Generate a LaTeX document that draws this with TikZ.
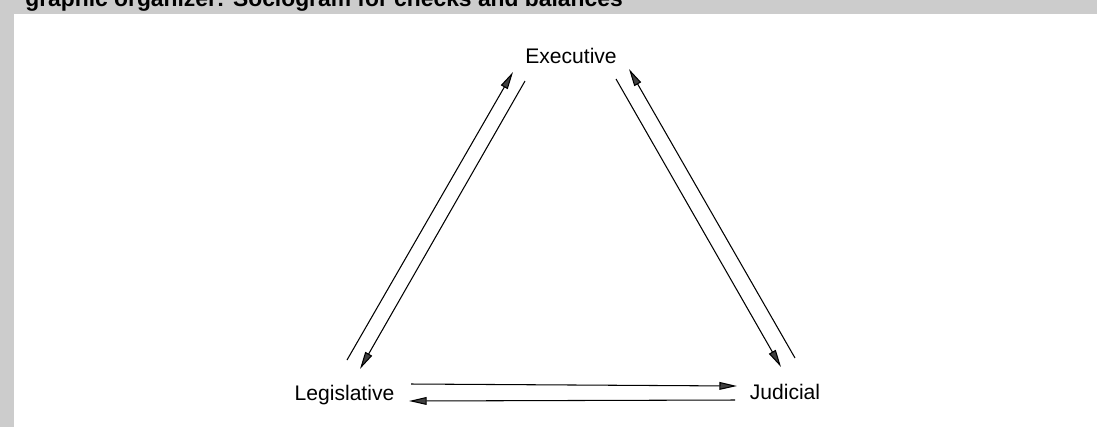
\documentclass[tikz,border=0pt]{standalone}
\usepackage{fontspec}
\setmainfont{Liberation Sans}
\usetikzlibrary{arrows.meta}

\begin{document}
\begin{tikzpicture}[x=0.02cm,y=-0.02cm,
  branch/.style={font=\fontsize{12}{14}\selectfont,anchor=base,inner sep=0pt},
  check/.style={line width=0.6pt,-{Triangle[length=10pt,width=4.4pt,fill=black!75]}}]
  \useasboundingbox (0,0) rectangle (1097,427);
  % page edge and the cut-off heading
  \begin{scope}
    \clip (0,0) rectangle (1097,14);
    \fill [black!20] (0,0) rectangle (1097,14);
    \node [anchor=base west,inner sep=0pt,font=\fontsize{13}{15}\selectfont\bfseries] (head) at (25,6) {graphic organizer: Sociogram for checks and balances};
  \end{scope}
  \fill [black!20] (0,0) rectangle (14,427);
  % the three branches
  \node [branch] (exec) at (571,63) {Executive};
  \node [branch] (legis) at (344.5,400) {Legislative};
  \node [branch] (judic) at (785,399) {Judicial};
  % checks between them
  \draw [check] ([shift={(2.5,-40)}]legis.base) -- ([shift={(-58,9)}]exec.base);
  \draw [check] ([shift={(-46,18)}]exec.base) -- ([shift={(15.5,-31)}]legis.base);
  \draw [check] ([shift={(45,16)}]exec.base) -- ([shift={(-4,-32)}]judic.base);
  \draw [check] ([shift={(10,-41)}]judic.base) -- ([shift={(58,6)}]exec.base);
  \draw [check] ([shift={(66.5,-16)}]legis.base) -- ([shift={(-48,-13)}]judic.base);
  \draw [check] ([shift={(-50,1)}]judic.base) -- ([shift={(64.5,1)}]legis.base);
\end{tikzpicture}
\end{document}
